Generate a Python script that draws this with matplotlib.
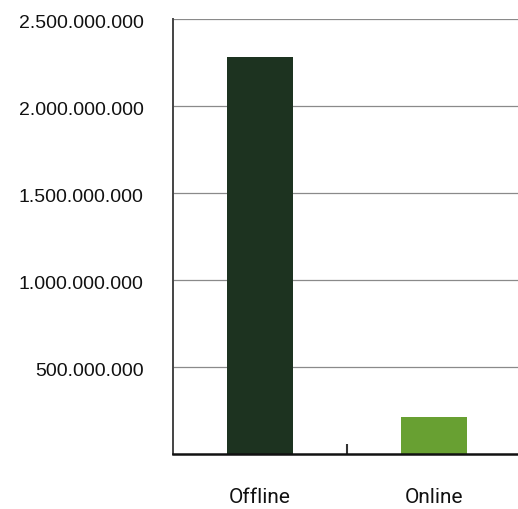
import matplotlib
matplotlib.use("Agg")
import matplotlib.pyplot as plt
import matplotlib.transforms as mtransforms
from matplotlib.ticker import FuncFormatter, FixedLocator

channels = ["Offline", "Online"]
revenue = [2_280_000_000, 215_000_000]
bar_colors = ["#1d3320", "#68a032"]
y_ticks = [500_000_000, 1_000_000_000, 1_500_000_000, 2_000_000_000, 2_500_000_000]

fig = plt.figure(figsize=(5.18, 5.09), dpi=100)
ax = fig.add_axes([0.334, 0.108, 0.672, 0.8546])

x = range(len(channels))
ax.bar(x, revenue, width=0.38, color=bar_colors, zorder=2)

ax.set_xlim(-0.5, 1.5)
ax.set_ylim(0, 2_500_000_000)

ax.yaxis.set_major_locator(FixedLocator(y_ticks))
ax.yaxis.set_major_formatter(FuncFormatter(lambda v, _: f"{int(v):,}".replace(",", ".")))
ax.grid(axis="y", color="#8a8a8a", linewidth=0.9, zorder=0)
ax.tick_params(axis="y", length=0, pad=21, labelsize=14, labelcolor="#111111")
shift = mtransforms.ScaledTranslation(0, -2 / 100, fig.dpi_scale_trans)
for lbl in ax.get_yticklabels():
    lbl.set_fontfamily("Liberation Sans")
    lbl.set_transform(lbl.get_transform() + shift)

# category labels centred under bars, separator tick between categories
ax.set_xticks([0.5])
ax.set_xticklabels([""])
ax.tick_params(axis="x", direction="in", length=7.5, width=1.5, color="#333333")
for xi, name in zip(x, channels):
    ax.text(xi, -0.099, name, transform=ax.get_xaxis_transform(), ha="center", va="center",
            fontsize=15, family="Roboto", color="#111111")

for side in ["top", "right"]:
    ax.spines[side].set_visible(False)
ax.spines["left"].set_color("#444444")
ax.spines["left"].set_linewidth(1.4)
ax.spines["bottom"].set_color("#111111")
ax.spines["bottom"].set_linewidth(1.8)

fig.savefig("out.png", dpi=100, facecolor="white")
